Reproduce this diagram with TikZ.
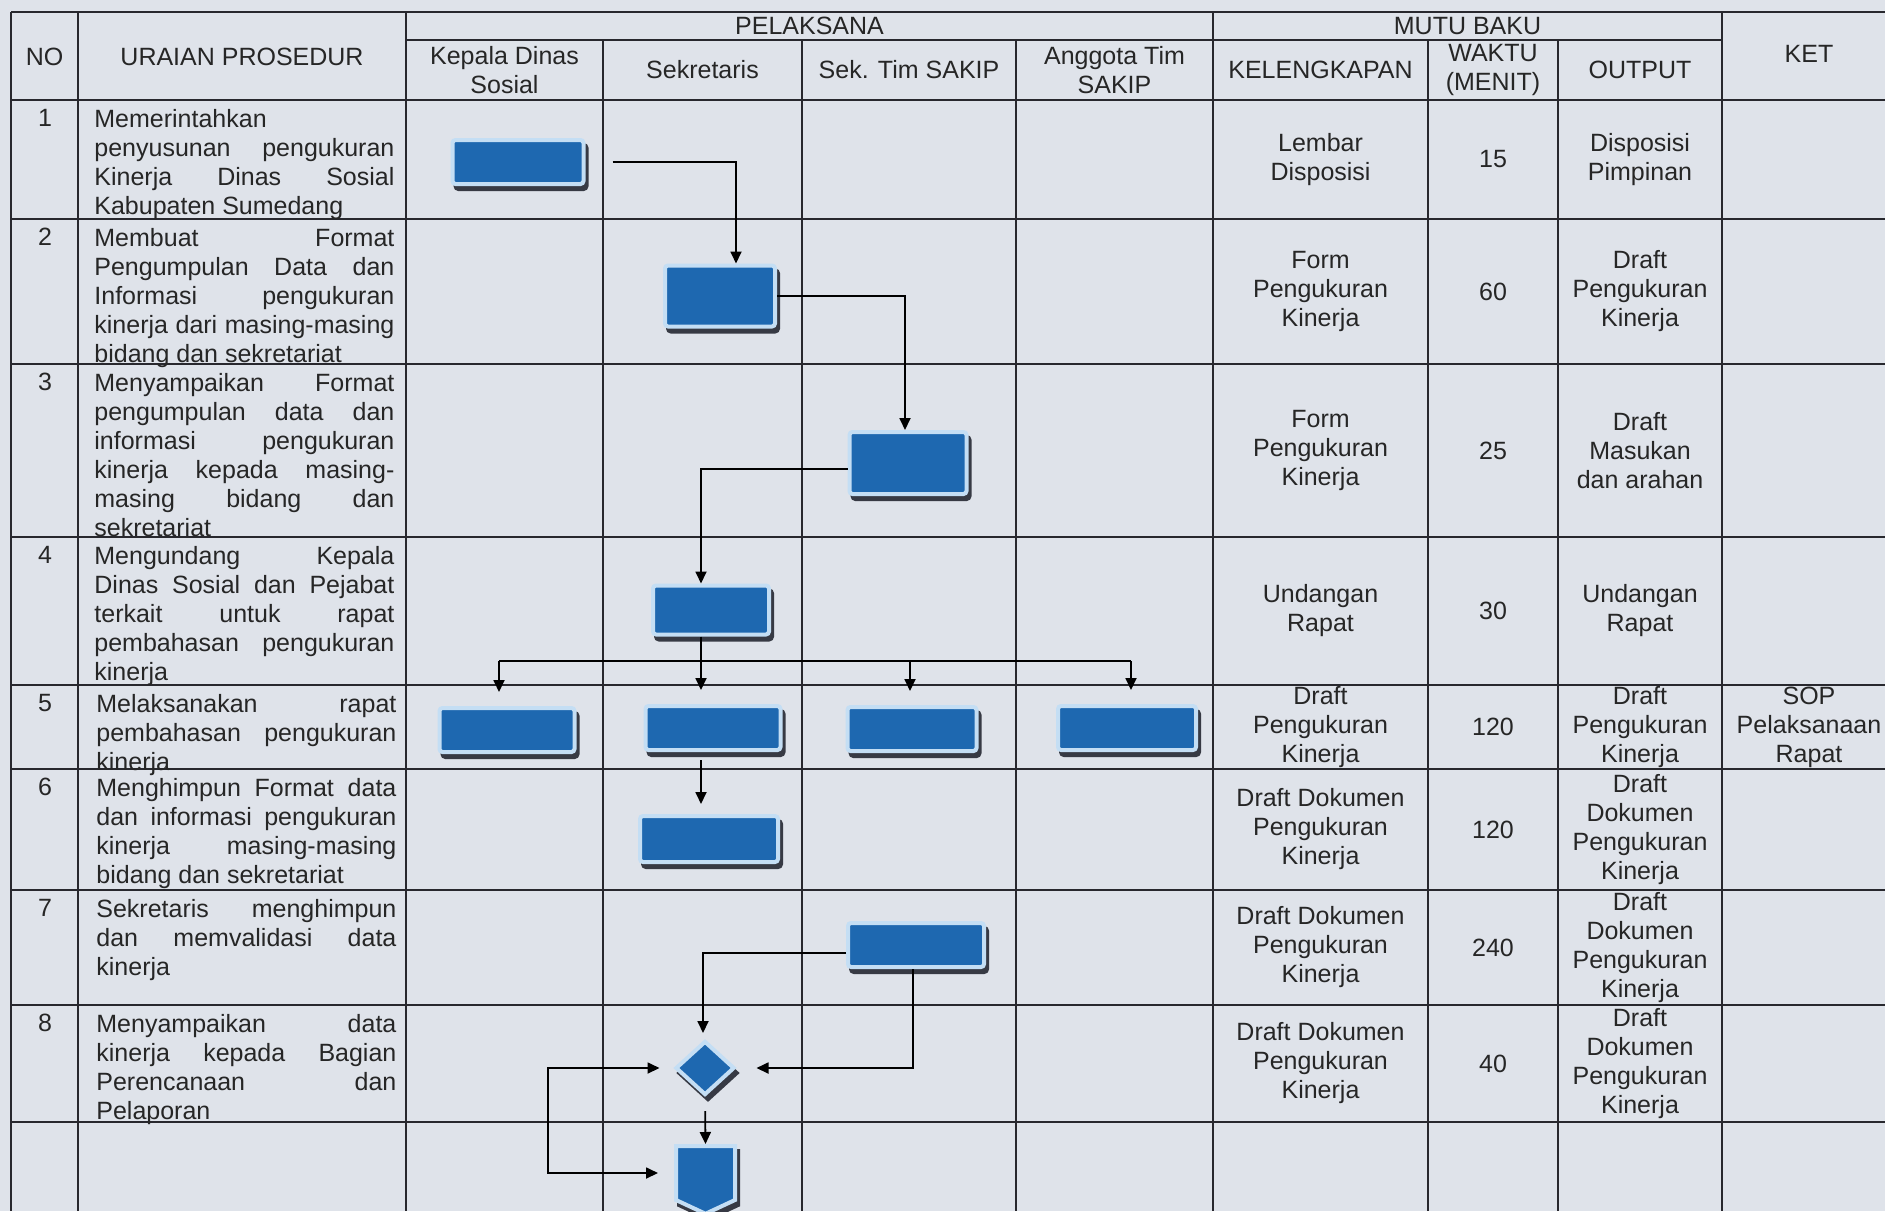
\documentclass[tikz,border=0pt]{standalone}
\usepackage{fontspec}
\setmainfont{Liberation Sans}
\usetikzlibrary{arrows.meta,shapes.geometric,shapes.symbols,shadows}

\definecolor{paper}{RGB}{223,227,234}
\definecolor{ink}{RGB}{40,40,46}
\definecolor{boxblue}{RGB}{30,104,176}
\definecolor{boxrim}{RGB}{196,222,244}
\definecolor{shade}{RGB}{55,58,68}

% one justified line of the procedure column
\newlength{\uraianw}
\setlength{\uraianw}{150pt}
\newcommand{\jl}[1]{\makebox[\uraianw][s]{#1}}

\tikzset{
  hline/.style={draw=ink, line width=1.4pt},
  vline/.style={draw=ink, line width=0.9pt},
  txt/.style={font=\fontsize{12.5}{14.5}\selectfont, inner sep=0pt, align=center, text=black!85},
  desc/.style={txt, anchor=north west, align=left},
  proc/.style={rectangle, rounded corners=1.5pt, fill=boxblue, draw=boxrim, line width=2pt, inner sep=0pt,
    general shadow={fill=shade, draw=shade, line width=2pt, shadow xshift=1.5pt, shadow yshift=-2.5pt}},
  decide/.style={proc, diamond, rounded corners=0pt},
  offpage/.style={proc, signal, signal to=south, signal from=nowhere, signal pointer angle=130, rounded corners=0pt},
  flow/.style={draw=black, line width=0.9pt, ->},
}

\begin{document}
\begin{tikzpicture}[x=0.5pt, y=-0.5pt, >={Triangle[length=6pt,width=5.5pt]}]
  % page and bounding box
  \fill[paper] (0,0) rectangle (1885,1211);
  \useasboundingbox (0,0) rectangle (1885,1211);

  % ---- table rules ----
  \draw[hline] (11,12) -- (1885,12);
  \draw[vline] (406,40) -- (1722,40);
  \foreach \y in {100,219,364,537,685,769,890,1005,1122} {
    \draw[hline] (11,\y) -- (1885,\y);
  }
  % full height columns
  \foreach \x in {11,78,406,1213,1722} {
    \draw[vline] (\x,12) -- (\x,1211);
  }
  % columns below the group headers
  \foreach \x in {603,802,1016,1428,1558} {
    \draw[vline] (\x,40) -- (\x,1211);
  }

  % ---- header ----
  \node[txt] (hno)  at (44.5,57)  {NO};
  \node[txt] (hur)  at (242,57)   {URAIAN PROSEDUR};
  \node[txt] (hpel) at (809.5,26) {PELAKSANA};
  \node[txt] (hmb)  at (1467.5,26) {MUTU BAKU};
  \node[txt] (hket) at (1809,54)  {KET};
  \node[txt] (hkd)  at (504.5,70) {Kepala Dinas\\Sosial};
  \node[txt] (hsek) at (702.5,70) {Sekretaris};
  \node[txt] (hst)  at (909,70)   {Sek. Tim SAKIP};
  \node[txt] (hat)  at (1114.5,70) {Anggota Tim\\SAKIP};
  \node[txt] (hkel) at (1320.5,70) {KELENGKAPAN};
  \node[txt] (hwak) at (1493,70)  {WAKTU\\(MENIT)};
  \node[txt] (hout) at (1640,70)  {OUTPUT};

  % ---- numbers ----
  \foreach \i/\t in {1/100,2/219,3/364,4/537,5/685,6/769,7/890,8/1005} {
    \node[txt, anchor=north] (no\i) at (45,\t+9) {\i};
  }

  % ---- procedure texts ----
  \node[desc] (ur1) at (94,109) {Memerintahkan\\ \jl{penyusunan pengukuran}\\
    \jl{Kinerja Dinas Sosial}\\ Kabupaten Sumedang};
  \node[desc] (ur2) at (94,228) {\jl{Membuat Format}\\ \jl{Pengumpulan Data dan}\\
    \jl{Informasi pengukuran}\\ \jl{kinerja dari masing-masing}\\ bidang dan sekretariat};
  \node[desc] (ur3) at (94,373) {\jl{Menyampaikan Format}\\ \jl{pengumpulan data dan}\\
    \jl{informasi pengukuran}\\ \jl{kinerja kepada masing-}\\ \jl{masing bidang dan}\\ sekretariat};
  \node[desc] (ur4) at (94,546) {\jl{Mengundang Kepala}\\ \jl{Dinas Sosial dan Pejabat}\\
    \jl{terkait untuk rapat}\\ \jl{pembahasan pengukuran}\\ kinerja};
  \node[desc] (ur5) at (96,694) {\jl{Melaksanakan rapat}\\ \jl{pembahasan pengukuran}\\ kinerja};
  \node[desc] (ur6) at (96,778) {\jl{Menghimpun Format data}\\ \jl{dan informasi pengukuran}\\
    \jl{kinerja masing-masing}\\ bidang dan sekretariat};
  \node[desc] (ur7) at (96,899) {\jl{Sekretaris menghimpun}\\ \jl{dan memvalidasi data}\\ kinerja};
  \node[desc] (ur8) at (96,1014) {\jl{Menyampaikan data}\\ \jl{kinerja kepada Bagian}\\
    \jl{Perencanaan dan}\\ Pelaporan};

  % ---- mutu baku columns ----
  \foreach \i/\yc/\kel/\wak/\out in {
      1/159.5/{Lembar\\Disposisi}/15/{Disposisi\\Pimpinan},
      2/291.5/{Form\\Pengukuran\\Kinerja}/60/{Draft\\Pengukuran\\Kinerja},
      3/450.5/{Form\\Pengukuran\\Kinerja}/25/{Draft\\Masukan\\dan arahan},
      4/611/{Undangan\\Rapat}/30/{Undangan\\Rapat},
      5/727/{Draft\\Pengukuran\\Kinerja}/120/{Draft\\Pengukuran\\Kinerja},
      6/829.5/{Draft Dokumen\\Pengukuran\\Kinerja}/120/{Draft\\Dokumen\\Pengukuran\\Kinerja},
      7/947.5/{Draft Dokumen\\Pengukuran\\Kinerja}/240/{Draft\\Dokumen\\Pengukuran\\Kinerja},
      8/1063.5/{Draft Dokumen\\Pengukuran\\Kinerja}/40/{Draft\\Dokumen\\Pengukuran\\Kinerja}} {
    \node[txt] (kel\i) at (1320.5,\yc) {\kel};
    \node[txt] (wak\i) at (1493,\yc) {\wak};
    \node[txt] (out\i) at (1640,\yc) {\out};
  }
  \node[txt] (ket5) at (1809,727) {SOP\\Pelaksanaan\\Rapat};

  % ---- flow symbols ----
  \node[proc, minimum width=65.5pt, minimum height=22pt]   (b1)  at (518,162) {};
  \node[proc, minimum width=55pt, minimum height=30.5pt]   (b2)  at (720,296) {};
  \node[proc, minimum width=58.5pt, minimum height=31pt]   (b3)  at (908,463) {};
  \node[proc, minimum width=58pt, minimum height=24.5pt]   (b4)  at (711,610) {};
  \node[proc, minimum width=67.5pt, minimum height=22pt]   (b5a) at (507,730) {};
  \node[proc, minimum width=67.5pt, minimum height=22pt]   (b5b) at (713,728) {};
  \node[proc, minimum width=64.5pt, minimum height=22pt]   (b5c) at (912,729) {};
  \node[proc, minimum width=69pt, minimum height=22pt]     (b5d) at (1127,728) {};
  \node[proc, minimum width=69pt, minimum height=23pt]     (b6)  at (709,839) {};
  \node[proc, minimum width=68pt, minimum height=22pt]     (b7)  at (916,945) {};
  \node[decide, minimum width=29.5pt, minimum height=27pt] (dec) at (705,1068) {};
  \node[offpage, minimum width=29.5pt, minimum height=27pt] (off) at (705.5,1173) {};

  % ---- connectors ----
  \draw[flow] ([xshift=13.5pt]b1.east) -| ([xshift=8pt]b2.north);
  \draw[flow] (b2.east) -| ([xshift=-1.5pt]b3.north);
  \draw[flow] ([yshift=-3pt]b3.west) -| ([xshift=-5pt]b4.north);
  % fan out to the meeting
  \coordinate (fa) at (499,661);
  \coordinate (fb) at (701,661);
  \coordinate (fc) at (910,661);
  \coordinate (fd) at (1131,661);
  \draw[flow, -] (fa) -- (fd);
  \draw[flow, -] ([xshift=-5pt]b4.south) -- (fb);
  \foreach \t/\f in {b5a/fa, b5b/fb, b5c/fc, b5d/fd} {
    \draw[flow, shorten >=7pt] (\f) -- (\f |- \t.north);
  }
  \draw[flow, shorten <=4pt, shorten >=5pt] (fb |- b5b.south) -- (fb |- b6.north);
  % validation and hand over
  \draw[flow, shorten >=3pt] ([yshift=-4pt]b7.west) -| ([xshift=-1pt]dec.north);
  \draw[flow, shorten >=10pt] ([xshift=-1.5pt]b7.south) |- (dec.east);
  \draw[flow, shorten <=7pt] (dec.south) -- (off.north);
  \coordinate (lp) at (548,1120);
  \draw[flow, <->, shorten <=7pt, shorten >=8pt] (dec.west) -| (lp) |- (off.west);
\end{tikzpicture}
\end{document}
